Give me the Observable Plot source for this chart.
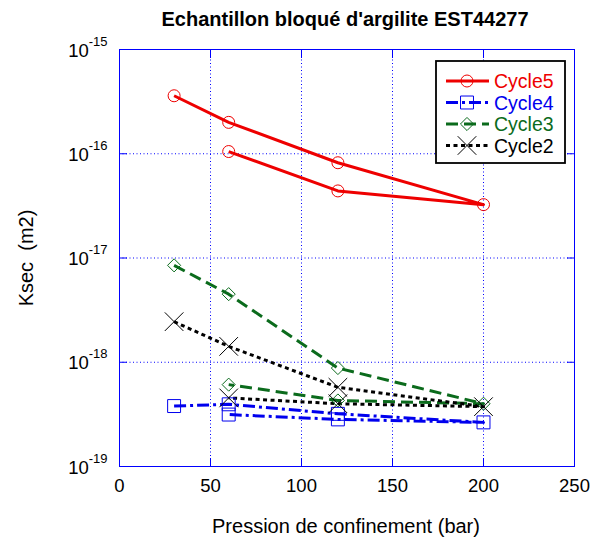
<!DOCTYPE html>
<html><head><meta charset="utf-8">
<script src="https://cdn.jsdelivr.net/npm/d3@7"></script>
<script src="https://cdn.jsdelivr.net/npm/@observablehq/plot@0.6"></script>
<style>body{margin:0;background:#fff} #chart{width:592px;height:540px}</style>
</head><body><div id="chart"></div>
<script>
// ---- data ----
const pressure = [30, 60, 120, 200, 120, 60];
const cycle5 = [3.6e-16, 2.0e-16, 8.2e-17, 3.25e-17, 4.4e-17, 1.05e-16];
const cycle4 = [3.8e-19, 3.95e-19, 3.2e-19, 2.65e-19, 2.83e-19, 3.15e-19];
const cycle3 = [8.5e-18, 4.5e-18, 8.8e-19, 4.0e-19, 4.3e-19, 6.1e-19];
const cycle2 = [2.45e-18, 1.42e-18, 5.75e-19, 3.75e-19, 4.0e-19, 4.55e-19];
const seriesNames = ["Cycle5", "Cycle4", "Cycle3", "Cycle2"];
const seriesValues = [cycle5, cycle4, cycle3, cycle2];
const seriesColors = ["#ee0000", "#0000ee", "#0b6b1c", "#000000"];
const seriesSymbols = ["circle", "square", "diamond2", "times"];
const seriesDash = [null, "12,4,3,4", "12,6", "4,3.5"];
const seriesR = [6, 7.3, 5.9, 8.5];
const xTicks = [0, 50, 100, 150, 200, 250];
const yTicks = [1e-19, 1e-18, 1e-17, 1e-16, 1e-15];
const yTickLabels = ["10^-19", "10^-18", "10^-17", "10^-16", "10^-15"];
const titleText = "Echantillon bloqué d'argilite EST44277";
const xLabel = "Pression de confinement (bar)";
const yLabel = "Ksec\u00a0\u00a0(m2)";

// ---- build rows ----
const series = seriesNames.map((name, i) => ({
  name, color: seriesColors[i], symbol: seriesSymbols[i], dash: seriesDash[i], r: seriesR[i],
  rows: pressure.map((p, j) => ({x: p, y: seriesValues[i][j]}))
}));

const lineMarks = series.map(s => Plot.line(s.rows, {
  x: "x", y: "y", stroke: s.color, strokeWidth: 3, strokeDasharray: s.dash, strokeLinecap: "butt", strokeLinejoin: "round"
}));
const dotMarks = series.map(s => Plot.dot(s.rows, {
  x: "x", y: "y", symbol: s.symbol, r: s.r, stroke: s.color, strokeWidth: 1, fill: "none"
}));

const chart = Plot.plot({
  width: 592, height: 540,
  marginLeft: 119, marginRight: 18, marginTop: 49, marginBottom: 74,
  style: {fontFamily: "'Liberation Sans', Arial, sans-serif", fontSize: "18.5px", color: "black", background: "white"},
  x: {domain: [0, 250]},
  y: {type: "log", domain: [1e-19, 1e-15]},
  marks: [
    Plot.gridX(xTicks, {stroke: "#0000ff", strokeOpacity: 1, strokeDasharray: "1,2.5"}),
    Plot.gridY(yTicks, {stroke: "#0000ff", strokeOpacity: 1, strokeDasharray: "1,2.5"}),
    ...lineMarks,
    ...dotMarks,
    Plot.frame({stroke: "#0000ff"}),
    Plot.axisX(xTicks, {anchor: "bottom", tickSize: 8, dy: -8, stroke: "#0000ff", fill: "none"}),
    Plot.axisX(xTicks, {anchor: "top", tickSize: 8, dy: 8, stroke: "#0000ff", fill: "none"}),
    Plot.axisY(yTicks, {anchor: "left", tickSize: 8, dx: 8, stroke: "#0000ff", fill: "none"}),
    Plot.axisY(yTicks, {anchor: "right", tickSize: 8, dx: -8, stroke: "#0000ff", fill: "none"}),
    Plot.axisX(xTicks, {anchor: "bottom", tickSize: 0, tickPadding: 12, label: null, fill: "black"}),
    Plot.axisY(yTicks, {anchor: "left", tickSize: 0, tickPadding: 12, label: null, fill: "black",
      tickFormat: d => yTickLabels[yTicks.indexOf(d)]})
  ]
});
document.getElementById("chart").appendChild(chart);

const svg = d3.select(chart);
// superscript y tick labels
svg.selectAll('g[aria-label="y-axis tick label"] text').each(function() {
  const t = d3.select(this);
  const [base, exp] = t.text().split("^");
  t.text(null).attr("y", null).attr("dy", null);
  t.append("tspan").attr("dy", 7).text(base);
  t.append("tspan").attr("dy", -11).attr("font-size", "13px").text(exp);
});

const font = "'Liberation Sans', Arial, sans-serif";
// title
svg.append("text").attr("x", 345).attr("y", 26).attr("text-anchor", "middle")
  .attr("font-family", font).attr("font-weight", "bold").attr("font-size", "20px").attr("fill", "black").text(titleText);
// x label
svg.append("text").attr("x", 346).attr("y", 533).attr("text-anchor", "middle")
  .attr("font-family", font).attr("font-size", "20px").attr("fill", "black").text(xLabel);
// y label
svg.append("text").attr("transform", "translate(33,258) rotate(-90)").attr("text-anchor", "middle")
  .attr("font-family", font).attr("font-size", "20px").attr("fill", "black").text(yLabel);

// legend
const symMap = {circle: d3.symbolCircle, square: d3.symbolSquare, diamond2: d3.symbolDiamond2, times: d3.symbolTimes};
const lg = svg.append("g");
lg.append("rect").attr("x", 436).attr("y", 61).attr("width", 129).attr("height", 102)
  .attr("fill", "white").attr("stroke", "black").attr("stroke-width", 1.8);
const rowY = [81, 102.5, 124, 145.5];
series.forEach((s, i) => {
  const y = rowY[i];
  lg.append("line").attr("x1", 446).attr("x2", 489).attr("y1", y).attr("y2", y)
    .attr("stroke", s.color).attr("stroke-width", 3).attr("stroke-dasharray", s.dash);
  lg.append("path").attr("transform", `translate(467,${y})`)
    .attr("d", d3.symbol(symMap[s.symbol], Math.PI * s.r * s.r)())
    .attr("fill", "none").attr("stroke", s.color).attr("stroke-width", 1);
  lg.append("text").attr("x", 494).attr("y", y).attr("dy", "0.36em").attr("text-anchor", "start")
    .attr("font-family", font).attr("font-size", "19.5px").attr("fill", s.color).text(s.name);
});
</script>
</body></html>
